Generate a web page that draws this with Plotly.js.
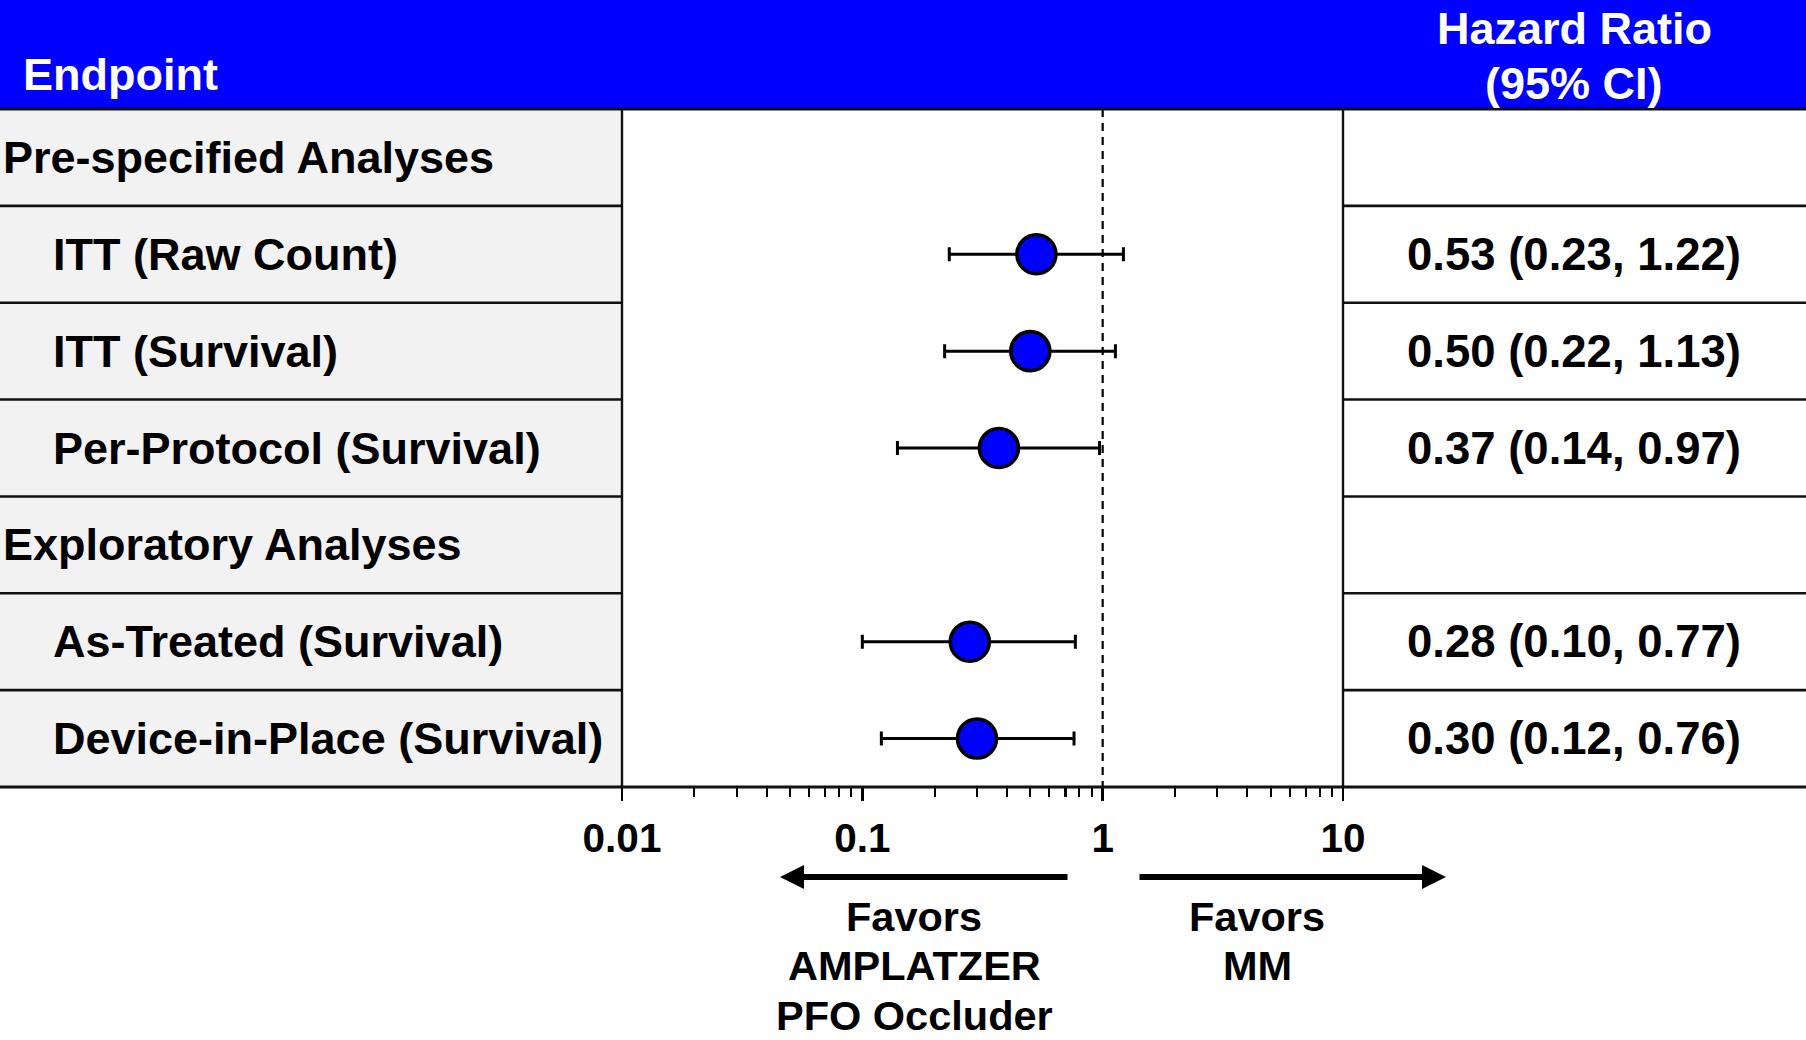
<!DOCTYPE html>
<html>
<head>
<meta charset="utf-8">
<script src="https://cdn.plot.ly/plotly-3.0.1.min.js"></script>
<style>html,body{margin:0;padding:0;background:#fff;}#chart{width:1806px;height:1040px;}</style>
</head>
<body>
<div id="chart"></div>
<script>
// ---- data ----
const rowLabels = ['Pre-specified Analyses', 'ITT (Raw Count)', 'ITT (Survival)', 'Per-Protocol (Survival)',
                   'Exploratory Analyses', 'As-Treated (Survival)', 'Device-in-Place (Survival)'];
const isSection = [true, false, false, false, true, false, false];
const hazardRatio = [null, 0.53, 0.50, 0.37, null, 0.28, 0.30];
const ciLower     = [null, 0.23, 0.22, 0.14, null, 0.10, 0.12];
const ciUpper     = [null, 1.22, 1.13, 0.97, null, 0.77, 0.76];
const tickValues = [0.01, 0.1, 1, 10];
const tickLabels = ['0.01', '0.1', '1', '10'];
const headerLeft = 'Endpoint';
const headerRight = ['Hazard Ratio', '(95% CI)'];
const favorsLeft = ['Favors', 'AMPLATZER', 'PFO Occluder'];
const favorsRight = ['Favors', 'MM'];

// ---- geometry helpers (pixel -> paper) ----
const W = 1806, H = 1040;
const L = 622, R = 1343, T = 109, B = 787;
const pw = R - L, ph = B - T;
const px = p => (p - L) / pw;
const py = p => (B - p) / ph;
const FONT = 'Liberation Sans, Arial, sans-serif';

const minorTicks = [];
[0.01, 0.1, 1].forEach(d => { for (let k = 2; k <= 9; k++) minorTicks.push(+(d * k).toPrecision(3)); });

const errPlus = hazardRatio.map((v, i) => v == null ? null : +(ciUpper[i] - v).toFixed(4));
const errMinus = hazardRatio.map((v, i) => v == null ? null : +(v - ciLower[i]).toFixed(4));

const trace = {
  type: 'scatter', mode: 'markers',
  x: hazardRatio, y: rowLabels,
  marker: {size: 39, color: '#0000ff', line: {color: '#000', width: 3.6}},
  error_x: {type: 'data', symmetric: false, array: errPlus, arrayminus: errMinus,
            color: '#000', thickness: 3, width: 7},
  cliponaxis: false, hoverinfo: 'skip', showlegend: false
};

const shapes = [];
const lineCol = '#111';
// grey left column
shapes.push({type: 'rect', xref: 'paper', yref: 'y', x0: px(0), x1: 0, y0: -0.5, y1: 6.5,
             fillcolor: '#f2f2f2', line: {width: 0}, layer: 'below'});
// blue header
shapes.push({type: 'rect', xref: 'paper', yref: 'paper', x0: px(0), x1: px(W), y0: 1, y1: py(0),
             fillcolor: '#0000ff', line: {width: 0}});
// header bottom line & axis bottom line (full width)
shapes.push({type: 'line', xref: 'paper', yref: 'paper', x0: px(0), x1: px(W), y0: 1, y1: 1,
             line: {color: lineCol, width: 3}});
shapes.push({type: 'line', xref: 'paper', yref: 'paper', x0: px(0), x1: px(W), y0: 0, y1: 0,
             line: {color: lineCol, width: 3}});
// row separators in left & right columns
for (let b = 0.5; b < 6; b += 1) {
  shapes.push({type: 'line', xref: 'paper', yref: 'y', x0: px(0), x1: 0, y0: b, y1: b,
               line: {color: lineCol, width: 2.6}});
  shapes.push({type: 'line', xref: 'paper', yref: 'y', x0: 1, x1: px(W), y0: b, y1: b,
               line: {color: lineCol, width: 2.6}});
}
// column borders
shapes.push({type: 'line', xref: 'paper', yref: 'paper', x0: 0, x1: 0, y0: 0, y1: 1, line: {color: lineCol, width: 2.4}});
shapes.push({type: 'line', xref: 'paper', yref: 'paper', x0: 1, x1: 1, y0: 0, y1: 1, line: {color: lineCol, width: 2.4}});
// null line at HR = 1
shapes.push({type: 'line', xref: 'x', yref: 'y', x0: 1, x1: 1, y0: -0.5, y1: 6.5,
             line: {color: '#000', width: 2.2, dash: '8px,6px'}, layer: 'below'});

const annotations = [];
const txt = (text, x, y, size, color, xanchor, xref, yref) => ({
  text: '<b>' + text + '</b>', x: x, y: y, xref: xref || 'paper', yref: yref || 'paper',
  xanchor: xanchor || 'center', yanchor: 'middle', showarrow: false,
  font: {family: FONT, size: size, color: color || '#000'}
});
// header texts
annotations.push(txt(headerLeft, px(21), py(74), 45, '#fff', 'left'));
annotations.push(txt(headerRight[0], px(1574), py(29), 45, '#fff'));
annotations.push(txt(headerRight[1], px(1574), py(83), 45, '#fff'));
// row labels & HR text
rowLabels.forEach((lab, i) => {
  annotations.push(txt(lab, px(isSection[i] ? 1 : 51), i, 45, '#000', 'left', 'paper', 'y'));
  if (hazardRatio[i] != null) {
    const s = hazardRatio[i].toFixed(2) + ' (' + ciLower[i].toFixed(2) + ', ' + ciUpper[i].toFixed(2) + ')';
    annotations.push(txt(s, px(1574), i, 45.5, '#000', 'center', 'paper', 'y'));
  }
});
// favors texts
favorsLeft.forEach((t, k) => annotations.push(txt(t, px(914), py(916 + k * 49.5), 41.5)));
favorsRight.forEach((t, k) => annotations.push(txt(t, px(1257), py(916 + k * 49.5), 41.5)));
// arrows
annotations.push({x: px(780), y: py(877), xref: 'paper', yref: 'paper', ax: 1069 - 780, ay: 0,
                  axref: 'pixel', ayref: 'pixel', text: '', showarrow: true,
                  arrowhead: 2, arrowsize: 0.8, arrowwidth: 6, arrowcolor: '#000'});
annotations.push({x: px(1446), y: py(877), xref: 'paper', yref: 'paper', ax: 1138 - 1446, ay: 0,
                  axref: 'pixel', ayref: 'pixel', text: '', showarrow: true,
                  arrowhead: 2, arrowsize: 0.8, arrowwidth: 6, arrowcolor: '#000'});

const layout = {
  width: W, height: H,
  margin: {l: L, r: W - R, t: T, b: H - B, pad: 0},
  paper_bgcolor: '#fff', plot_bgcolor: '#fff',
  showlegend: false,
  xaxis: {
    type: 'log', range: [-2, 1], tickmode: 'array', tickvals: tickValues, ticktext: tickLabels,
    ticks: 'outside', ticklen: 13, tickwidth: 2.6, tickcolor: '#000',
    showgrid: false, zeroline: false, showline: false,
    tickfont: {family: FONT, size: 40.5, color: '#000', weight: 'bold'},
    ticklabelstandoff: 2,
    minor: {tickmode: 'array', tickvals: minorTicks, ticks: 'outside', ticklen: 9, tickwidth: 2.2,
            tickcolor: '#000', showgrid: false},
    fixedrange: true
  },
  yaxis: {
    type: 'category', categoryorder: 'array', categoryarray: rowLabels,
    range: [6.5, -0.5], showticklabels: false, ticks: '', showgrid: false,
    zeroline: false, showline: false, fixedrange: true
  },
  shapes: shapes,
  annotations: annotations
};

Plotly.newPlot('chart', [trace], layout, {displayModeBar: false, staticPlot: true});
</script>
</body>
</html>
